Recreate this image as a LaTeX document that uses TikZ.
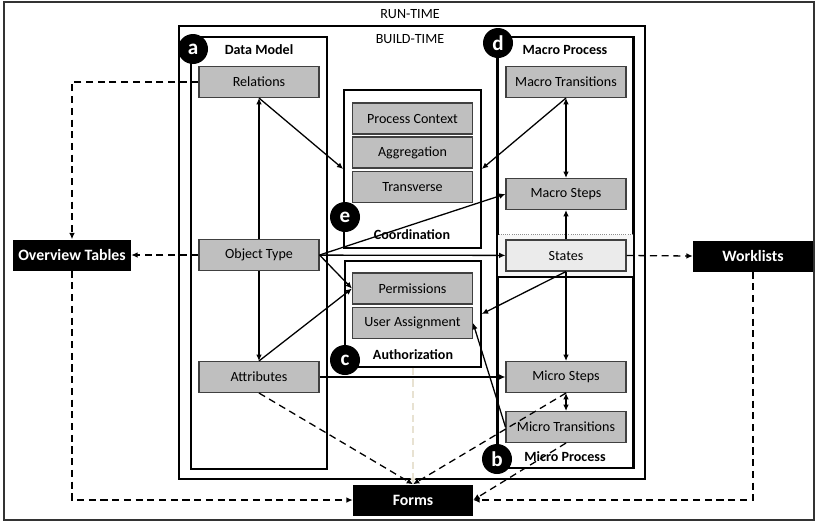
\documentclass[tikz,border=0pt]{standalone}
\usepackage{fontspec}
\setmainfont{Carlito}
\usepackage{xcolor}
\usepackage{tikz}
\usetikzlibrary{arrows.meta,positioning}
\definecolor{faint}{RGB}{232,226,210}
\newcommand{\lbl}[1]{\textbf{#1}}

\begin{document}
\begin{tikzpicture}[
  x=0.03cm,y=-0.03cm,
  font=\fontsize{12}{14}\selectfont,
  el/.style={draw=black!75,fill=black!25,line width=0.9pt,minimum width=3.6cm,minimum height=0.93cm,inner sep=0pt},
  ext/.style={fill=black,text=white,minimum width=3.6cm,minimum height=0.93cm,inner sep=0pt,font=\fontsize{13.5}{16}\selectfont\bfseries},
  grp/.style={draw,line width=1.3pt,fill=white,inner sep=0pt},
  frm/.style={draw,line width=1.7pt,inner sep=0pt},
  tag/.style={circle,fill=black,text=white,minimum size=0.9cm,inner sep=0pt,font=\fontsize{18}{18}\selectfont\bfseries},
  a/.style={-{Latex[length=1.9mm,width=1.7mm]},line width=1.1pt},
  aa/.style={{Latex[length=1.9mm,width=1.7mm]}-{Latex[length=1.9mm,width=1.7mm]},line width=1.1pt},
  d/.style={a,dash pattern=on 6pt off 4pt}
]
\useasboundingbox (0,0) rectangle (817,524);

% frames
\node[frm,draw=black!80,line width=1.3pt,minimum width=24.3cm,minimum height=15.54cm] (run) at (409,261) {};
\node[frm,minimum width=13.98cm,minimum height=13.59cm] (build) at (412,252.5) {};
\node (runlbl) at (410,14) {RUN-TIME};
\node (buildlbl) at (410,39) {BUILD-TIME};

% data model
\node[grp,minimum width=4.08cm,minimum height=12.96cm] (dm) at (259,253) {};
\node (dmlbl) at (259,50) {\lbl{Data Model}};
\node[el] (rel)  at (259,82)  {Relations};
\node[el] (obj)  at (259,255) {Object Type};
\node[el] (attr) at (259,377) {Attributes};

% coordination
\node[grp,minimum width=4.11cm,minimum height=4.74cm] (coord) at (412.5,169) {};
\node[el] (pc)  at (412.5,118.5) {Process Context};
\node[el] (agg) at (412.5,152.5) {Aggregation};
\node[el] (trv) at (412.5,187)   {Transverse};

% authorization
\node[grp,minimum width=4.08cm,minimum height=3.18cm] (auth) at (413,314) {};
\node[el] (perm) at (412.5,288.5) {Permissions};
\node[el] (ua)   at (412.5,323)   {User Assignment};

% macro / micro process
\node[grp,minimum width=4.05cm,minimum height=12.93cm] (proc) at (565.5,252.5) {};
\node[fill=black!3,minimum width=4.14cm,minimum height=1.26cm,inner sep=0pt] (band) at (566,256) {};
\draw[black!45,densely dotted,line width=0.8pt] (band.north west) -- (band.north east);
\draw[line width=1.3pt] (band.south west) -- (band.south east);
\draw[line width=1.3pt] (proc.north west) -- (proc.south west);
\draw[line width=1.3pt] (proc.north east) -- (proc.south east);
\node (maclbl) at (565,50)  {\lbl{Macro Process}};
\node (miclbl) at (565,457) {\lbl{Micro Process}};
\node[el] (mt)  at (566,82)    {Macro Transitions};
\node[el] (ms)  at (566,194)   {Macro Steps};
\node[el,fill=black!8] (st) at (566,255.5) {States};
\node[el] (mis) at (566,377)   {Micro Steps};
\node[el] (mit) at (566,427)   {Micro Transitions};

% outside
\node[ext,minimum width=3.54cm] (ovt) at (72,255) {Overview Tables};
\node[ext] (wl)    at (753,256) {Worklists};
\node[ext] (forms) at (413,500) {Forms};

% dashed links
\draw[d] (rel.west) -| (ovt.north);
\draw[d] (obj.west) -- (ovt.east);
\draw[d] (ovt.south) |- (forms.west);
\draw[d] (wl.south) |- (forms.east);
\draw[d] (st.east) -- (wl.west);
\draw[d] (attr.south) -- (forms.north);
\draw[d] (mis.south) -- (forms.north);
\draw[d] (mit.south) -- (forms.east);
\draw[d,faint] (auth.south) -- (forms.north);

% solid links
\draw[a] (obj) -- (rel);
\draw[a] (obj) -- (attr);
\draw[a] (rel.south) -- (coord.west);
\draw[a] (mt.south) -- (coord.east);
\draw[aa] (mt) -- (ms);
\draw[a] (st) -- (ms);
\draw[a] (st) -- (mis);
\draw[aa] (mis) -- (mit);
\draw[a] (obj.east) -- (ms.west);
\draw[a] (obj) -- (st);
\draw[a] (obj.east) -- (perm.west);
\draw[a] (attr.north) -- (perm.west);
\draw[a] (st.south) -- (auth.east);
\draw[a] (mit.west) -- (ua.east);
\draw[a] (attr) -- (mis);

% group labels
\node (colbl) at (412,235) {\lbl{Coordination}};
\node (aulbl) at (413,355) {\lbl{Authorization}};
\node[tag] (ta) at (193,49)  {a};
\node[tag] (tb) at (497,459) {b};
\node[tag] (tc) at (345,360) {c};
\node[tag] (td) at (498,43)  {d};
\node[tag] (te) at (345,217) {e};
\end{tikzpicture}
\end{document}
